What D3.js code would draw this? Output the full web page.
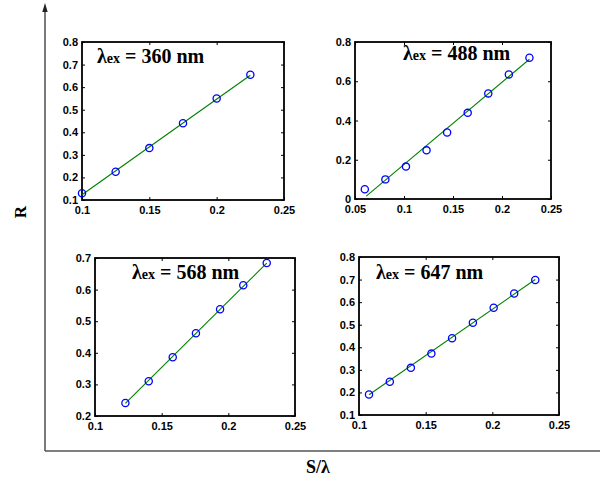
<!DOCTYPE html>
<html><head><meta charset="utf-8">
<script src="https://cdn.jsdelivr.net/npm/d3@7"></script>
<style>html,body{margin:0;padding:0;background:#fff;}svg{display:block;}</style>
</head><body>
<svg id="chart" width="600" height="481"></svg>
<script>
// ---- data ----
const wavelengths = ["360", "488", "568", "647"];

const p1X = [0.1, 0.125, 0.15, 0.175, 0.2, 0.225];
const p1Y = [0.13, 0.225, 0.33, 0.44, 0.55, 0.655];
const p1FitX = [0.1, 0.225];
const p1FitY = [0.123, 0.653];

const p2X = [0.06, 0.081, 0.102, 0.123, 0.144, 0.165, 0.186, 0.207, 0.228];
const p2Y = [0.05, 0.1, 0.165, 0.248, 0.339, 0.439, 0.538, 0.635, 0.72];
const p2FitX = [0.0615, 0.228];
const p2FitY = [0.015, 0.712];

const p3X = [0.1228, 0.1403, 0.1583, 0.1757, 0.1938, 0.2112, 0.2288];
const p3Y = [0.241, 0.31, 0.386, 0.462, 0.538, 0.614, 0.684];
const p3FitX = [0.1228, 0.2288];
const p3FitY = [0.24, 0.684];

const p4X = [0.1075, 0.1231, 0.1389, 0.1543, 0.1698, 0.1854, 0.201, 0.2164, 0.2322];
const p4Y = [0.191, 0.247, 0.309, 0.372, 0.44, 0.509, 0.575, 0.638, 0.698];
const p4FitX = [0.1075, 0.2322];
const p4FitY = [0.19, 0.7];

const p1XTicks = [0.1, 0.15, 0.2, 0.25];
const p1YTicks = [0.1, 0.2, 0.3, 0.4, 0.5, 0.6, 0.7, 0.8];
const p2XTicks = [0.05, 0.1, 0.15, 0.2, 0.25];
const p2YTicks = [0, 0.2, 0.4, 0.6, 0.8];
const p3XTicks = [0.1, 0.15, 0.2, 0.25];
const p3YTicks = [0.2, 0.3, 0.4, 0.5, 0.6, 0.7];
const p4XTicks = [0.1, 0.15, 0.2, 0.25];
const p4YTicks = [0.1, 0.2, 0.3, 0.4, 0.5, 0.6, 0.7, 0.8];

const p1XDomain = [0.1, 0.25], p1YDomain = [0.1, 0.8];
const p2XDomain = [0.05, 0.25], p2YDomain = [0, 0.8];
const p3XDomain = [0.1, 0.25], p3YDomain = [0.2, 0.7];
const p4XDomain = [0.1, 0.25], p4YDomain = [0.1, 0.8];

const xAxisLabel = "S/λ";
const yAxisLabel = "R";

// ---- layout (not data) ----
const panels = [
  {x: p1X, y: p1Y, fx: p1FitX, fy: p1FitY, xt: p1XTicks, yt: p1YTicks, xd: p1XDomain, yd: p1YDomain,
   xr: [82, 284], yr: [200, 42], title: wavelengths[0], tx: 97, ty: 63},
  {x: p2X, y: p2Y, fx: p2FitX, fy: p2FitY, xt: p2XTicks, yt: p2YTicks, xd: p2XDomain, yd: p2YDomain,
   xr: [355, 551], yr: [199, 42], title: wavelengths[1], tx: 403, ty: 60},
  {x: p3X, y: p3Y, fx: p3FitX, fy: p3FitY, xt: p3XTicks, yt: p3YTicks, xd: p3XDomain, yd: p3YDomain,
   xr: [95, 295], yr: [416, 258], title: wavelengths[2], tx: 132, ty: 279},
  {x: p4X, y: p4Y, fx: p4FitX, fy: p4FitY, xt: p4XTicks, yt: p4YTicks, xd: p4XDomain, yd: p4YDomain,
   xr: [359, 559], yr: [415, 257], title: wavelengths[3], tx: 376, ty: 279}
];

const svg = d3.select("#chart");
const fmt = d => String(+d.toFixed(2));
const tickLen = 3;

// big outer axes
svg.append("line").attr("x1", 45).attr("x2", 45).attr("y1", 451).attr("y2", 9)
  .attr("stroke", "#222").attr("stroke-width", 1.2);
svg.append("path").attr("d", "M45,3 L42.3,12 L47.7,12 Z").attr("fill", "#222");
svg.append("line").attr("x1", 45).attr("x2", 600).attr("y1", 451).attr("y2", 451)
  .attr("stroke", "#555").attr("stroke-width", 1.3);

svg.append("text").attr("transform", "translate(26,212) rotate(-90)")
  .attr("text-anchor", "middle").attr("font-family", "Liberation Serif, serif")
  .attr("font-weight", "bold").attr("font-size", 17).text(yAxisLabel);
svg.append("text").attr("x", 318).attr("y", 473)
  .attr("text-anchor", "middle").attr("font-family", "Liberation Serif, serif")
  .attr("font-weight", "bold").attr("font-size", 18).text(xAxisLabel);

panels.forEach(p => {
  const xs = d3.scaleLinear().domain(p.xd).range(p.xr);
  const ys = d3.scaleLinear().domain(p.yd).range(p.yr);
  const g = svg.append("g");

  const styleAxis = sel => {
    sel.select(".domain").remove();
    sel.selectAll(".tick line").attr("stroke", "#000").attr("stroke-width", 1);
    sel.selectAll(".tick text").attr("font-family", "Liberation Sans, Arial, sans-serif")
      .attr("font-weight", "bold").attr("font-size", 11).attr("fill", "#000");
  };

  g.append("g").attr("transform", `translate(0,${p.yr[0]})`)
    .call(d3.axisBottom(xs).tickValues(p.xt).tickFormat(fmt).tickSizeInner(-tickLen).tickSizeOuter(0).tickPadding(6))
    .call(styleAxis);
  g.append("g").attr("transform", `translate(0,${p.yr[1]})`)
    .call(d3.axisTop(xs).tickValues(p.xt).tickFormat("").tickSizeInner(-tickLen).tickSizeOuter(0))
    .call(styleAxis);
  g.append("g").attr("transform", `translate(${p.xr[0]},0)`)
    .call(d3.axisLeft(ys).tickValues(p.yt).tickFormat(fmt).tickSizeInner(-tickLen).tickSizeOuter(0).tickPadding(4))
    .call(styleAxis);
  g.append("g").attr("transform", `translate(${p.xr[1]},0)`)
    .call(d3.axisRight(ys).tickValues(p.yt).tickFormat("").tickSizeInner(-tickLen).tickSizeOuter(0))
    .call(styleAxis);

  g.append("rect").attr("x", p.xr[0]).attr("y", p.yr[1])
    .attr("width", p.xr[1] - p.xr[0]).attr("height", p.yr[0] - p.yr[1])
    .attr("fill", "none").attr("stroke", "#000").attr("stroke-width", 1.8);

  const fit = p.fx.map((v, i) => [v, p.fy[i]]);
  g.append("path").datum(fit)
    .attr("d", d3.line().x(d => xs(d[0])).y(d => ys(d[1])))
    .attr("fill", "none").attr("stroke", "#008000").attr("stroke-width", 1.1);

  const pts = p.x.map((v, i) => [v, p.y[i]]);
  g.selectAll("circle.pt").data(pts).enter().append("circle")
    .attr("class", "pt")
    .attr("cx", d => xs(d[0])).attr("cy", d => ys(d[1])).attr("r", 3.6)
    .attr("fill", "none").attr("stroke", "#0000ff").attr("stroke-width", 1.3);

  const t = g.append("text").attr("x", p.tx).attr("y", p.ty)
    .attr("font-family", "Liberation Serif, 'Times New Roman', serif").attr("font-weight", "bold")
    .attr("font-size", 20).attr("fill", "#000");
  t.append("tspan").text("λ");
  t.append("tspan").attr("font-size", 14).text("ex");
  t.append("tspan").text(" = " + p.title + " nm");
});
</script>
</body></html>
